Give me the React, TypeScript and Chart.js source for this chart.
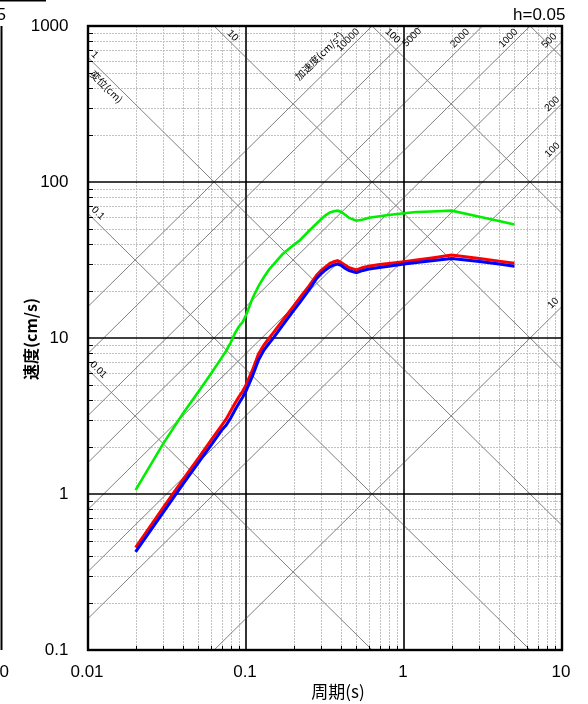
import React, { useEffect, useRef } from 'react';
import { Chart, registerables } from 'chart.js';

Chart.register(...registerables);

// ---------- data ----------
const periods = [0.02, 0.03, 0.04, 0.05, 0.06, 0.07, 0.075, 0.08, 0.085, 0.09, 0.095, 0.1, 0.11, 0.12, 0.13, 0.14, 0.15, 0.17, 0.2, 0.22, 0.25, 0.28, 0.3, 0.32, 0.34, 0.36, 0.38, 0.4, 0.42, 0.45, 0.5, 0.55, 0.6, 0.7, 0.8, 1.0, 1.2, 1.5, 2.0, 3.0, 4.0, 5.0];
const svGreen = [1.06, 2.11, 3.29, 4.52, 5.9, 7.46, 8.29, 9.35, 10.7, 11.8, 12.6, 14.0, 18.0, 21.5, 24.6, 27.5, 29.8, 34.4, 39.4, 42.5, 48.5, 54.2, 57.9, 61.4, 63.8, 64.9, 65.5, 64.2, 62.1, 58.8, 56.5, 57.5, 59.0, 60.3, 61.4, 63.0, 64.2, 64.7, 65.5, 59.9, 56.2, 53.4];
const svRed = [0.454, 0.822, 1.24, 1.7, 2.21, 2.74, 3.03, 3.4, 3.8, 4.19, 4.54, 5.0, 6.24, 7.9, 9.04, 9.97, 10.9, 12.9, 16.0, 18.2, 21.5, 25.3, 27.2, 28.7, 30.1, 30.8, 31.3, 30.5, 29.5, 28.2, 27.3, 28.3, 28.9, 29.6, 30.0, 30.8, 31.6, 32.6, 34.0, 32.3, 31.1, 30.1];
const svBlue = [0.425, 0.766, 1.16, 1.59, 2.05, 2.56, 2.77, 3.07, 3.44, 3.8, 4.16, 4.57, 5.71, 7.23, 8.38, 9.25, 10.1, 12.0, 15.0, 17.0, 20.3, 24.1, 25.9, 27.4, 28.6, 29.4, 29.8, 29.2, 28.1, 27.0, 26.2, 27.1, 27.7, 28.3, 28.8, 29.8, 30.5, 31.3, 32.3, 30.9, 29.8, 28.8];

const xTickValues = [0.01, 0.1, 1, 10];
const xTickLabels = ['0.01', '0.1', '1', '10'];
const yTickValues = [0.1, 1, 10, 100, 1000];
const yTickLabels = ['0.1', '1', '10', '100', '1000'];

const dispLines = [0.01, 0.1, 1, 10, 100, 1000];
const accLines = [10, 100, 200, 500, 1000, 2000, 5000, 10000];
const dispLabelValues = [1, 0.1, 0.01, 10, 100];
const dispLabelTexts = ['1', '0.1', '0.01', '10', '100'];
const accLabelValues = [10000, 5000, 2000, 1000, 500, 200, 100, 10];
const accLabelTexts = ['10000', '5000', '2000', '1000', '500', '200', '100', '10'];
const dispTitle = '変位(cm)';
const accTitle = '加速度(cm/s²)';
const xTitle = '周期(s)';
const yTitle = '速度(cm/s)';
const dampingText = 'h=0.05';

// ---------- styles / offsets (pixels) ----------
const DISP_LABEL_OFFSETS: Record<string, [number, number]> = {
  '1': [6.7, -2.5], '0.1': [10, -0.2], '0.01': [10.3, 0.5], '10': [18.6, 9.8], '100': [20.5, 9.8],
};
const ACC_LABEL_OFFSETS: Record<string, [number, number]> = {
  '10000': [-24, 14], '5000': [-7.5, 11.5], '2000': [-22.5, 12.3], '1000': [-21.7, 12.3],
  '500': [-12.7, -0.7], '200': [-9.8, 0.5], '100': [-9.5, -0.6], '10': [-8.7, -3.3],
};
const DISP_TITLE_OFFSET: [number, number] = [18.5, 29.2];
const ACC_TITLE_OFFSET: [number, number] = [-52.8, 29.8];

const LATIN = '"Liberation Sans", Arial, "Noto Sans CJK JP", sans-serif';
const CJK = '"Noto Sans CJK JP", "Liberation Sans", sans-serif';
const TWO_PI = 2 * Math.PI;

const tripartitePlugin = {
  id: 'tripartite',
  beforeDatasetsDraw(chart: any) {
    const { ctx, chartArea: ca, scales } = chart;
    const xs = scales.x, ys = scales.y;
    const Tmin = xs.min, Tmax = xs.max, Smin = ys.min, Smax = ys.max;
    const px = (v: number) => xs.getPixelForValue(v);
    const py = (v: number) => ys.getPixelForValue(v);
    ctx.save();
    ctx.beginPath();
    ctx.rect(ca.left, ca.top, ca.right - ca.left, ca.bottom - ca.top);
    ctx.clip();
    // minor grid
    ctx.strokeStyle = '#c2c2c2';
    ctx.lineWidth = 1;
    ctx.setLineDash([2, 1]);
    for (let e = -2; e < 1; e++) {
      for (let k = 2; k <= 9; k++) {
        const x = Math.round(px(k * Math.pow(10, e))) + 0.5;
        ctx.beginPath(); ctx.moveTo(x, ca.top); ctx.lineTo(x, ca.bottom); ctx.stroke();
      }
    }
    for (let e = -1; e < 3; e++) {
      for (let k = 2; k <= 9; k++) {
        const y = Math.round(py(k * Math.pow(10, e))) + 0.5;
        ctx.beginPath(); ctx.moveTo(ca.left, y); ctx.lineTo(ca.right, y); ctx.stroke();
      }
    }
    ctx.setLineDash([]);
    // diagonal lines
    ctx.strokeStyle = '#808080';
    ctx.lineWidth = 1;
    for (const D of dispLines) {
      const t0 = Math.max(Tmin, TWO_PI * D / Smax);
      const t1 = Math.min(Tmax, TWO_PI * D / Smin);
      if (t1 <= t0) continue;
      ctx.beginPath();
      ctx.moveTo(px(t0), py(TWO_PI * D / t0));
      ctx.lineTo(px(t1), py(TWO_PI * D / t1));
      ctx.stroke();
    }
    for (const A of accLines) {
      const t0 = Math.max(Tmin, TWO_PI * Smin / A);
      const t1 = Math.min(Tmax, TWO_PI * Smax / A);
      if (t1 <= t0) continue;
      ctx.beginPath();
      ctx.moveTo(px(t0), py(A * t0 / TWO_PI));
      ctx.lineTo(px(t1), py(A * t1 / TWO_PI));
      ctx.stroke();
    }
    // major grid
    ctx.strokeStyle = '#333';
    ctx.lineWidth = 2;
    for (const v of [0.1, 1]) {
      const x = Math.round(px(v));
      ctx.beginPath(); ctx.moveTo(x, ca.top); ctx.lineTo(x, ca.bottom); ctx.stroke();
    }
    ctx.strokeStyle = '#000';
    ctx.lineWidth = 1.6;
    for (const v of [1, 10, 100]) {
      const y = Math.round(py(v));
      ctx.beginPath(); ctx.moveTo(ca.left, y); ctx.lineTo(ca.right, y); ctx.stroke();
    }
    ctx.restore();

    // diagonal labels
    const ang = Math.atan2(Math.abs(py(1) - py(10)), Math.abs(px(10) - px(1)));
    ctx.save();
    ctx.fillStyle = '#000';
    ctx.textAlign = 'center';
    ctx.textBaseline = 'middle';
    const drawRot = (text: string, cx: number, cy: number, a: number, font: string) => {
      ctx.save();
      ctx.translate(cx, cy);
      ctx.rotate(a);
      ctx.font = font;
      ctx.fillText(text, 0, 0);
      ctx.restore();
    };
    const f10 = `10px ${LATIN}`;
    dispLabelValues.forEach((D, i) => {
      const t0 = Math.max(Tmin, TWO_PI * D / Smax);
      const ax = px(t0), ay = py(TWO_PI * D / t0);
      const off = DISP_LABEL_OFFSETS[dispLabelTexts[i]];
      drawRot(dispLabelTexts[i], ax + off[0], ay + off[1], ang, f10);
      if (D === 1) drawRot(dispTitle, ax + DISP_TITLE_OFFSET[0], ay + DISP_TITLE_OFFSET[1], ang, `10px ${CJK}`);
    });
    accLabelValues.forEach((A, i) => {
      const t1 = Math.min(Tmax, TWO_PI * Smax / A);
      const ax = px(t1), ay = py(A * t1 / TWO_PI);
      const off = ACC_LABEL_OFFSETS[accLabelTexts[i]];
      drawRot(accLabelTexts[i], ax + off[0], ay + off[1], -ang, f10);
      if (A === 10000) drawRot(accTitle, ax + ACC_TITLE_OFFSET[0], ay + ACC_TITLE_OFFSET[1], -ang, `10px ${CJK}`);
    });
    ctx.restore();
  },
  afterDatasetsDraw(chart: any) {
    const { ctx, chartArea: ca, scales } = chart;
    const xs = scales.x, ys = scales.y;
    const px = (v: number) => xs.getPixelForValue(v);
    const py = (v: number) => ys.getPixelForValue(v);
    ctx.save();
    // ticks
    ctx.strokeStyle = '#000';
    ctx.lineWidth = 1;
    for (let e = -2; e < 1; e++) {
      for (let k = 2; k <= 9; k++) {
        const x = Math.round(px(k * Math.pow(10, e))) + 0.5;
        ctx.beginPath(); ctx.moveTo(x, ca.bottom); ctx.lineTo(x, ca.bottom - 4); ctx.stroke();
      }
    }
    for (let e = -1; e < 3; e++) {
      for (let k = 2; k <= 9; k++) {
        const y = Math.round(py(k * Math.pow(10, e))) + 0.5;
        ctx.beginPath(); ctx.moveTo(ca.left, y); ctx.lineTo(ca.left + 5, y); ctx.stroke();
      }
    }
    // frame
    ctx.lineWidth = 2.4;
    ctx.strokeRect(ca.left, ca.top, ca.right - ca.left, ca.bottom - ca.top);
    // tick labels
    ctx.fillStyle = '#000';
    ctx.font = `17px ${LATIN}`;
    ctx.textAlign = 'right';
    ctx.textBaseline = 'middle';
    yTickValues.forEach((v, i) => ctx.fillText(yTickLabels[i], ca.left - 19.5, py(v)));
    ctx.textAlign = 'center';
    xTickValues.forEach((v, i) => ctx.fillText(xTickLabels[i], px(v) - 1, ca.bottom + 22));
    // titles
    ctx.font = `17px ${CJK}`;
    ctx.fillText(xTitle, (ca.left + ca.right) / 2 + 13, ca.bottom + 42);
    ctx.save();
    ctx.translate(30.5, (ca.top + ca.bottom) / 2 + 1);
    ctx.rotate(-Math.PI / 2);
    ctx.font = `bold 16px ${CJK}`;
    ctx.fillText(yTitle, 0, 0);
    ctx.restore();
    ctx.font = `17px ${LATIN}`;
    ctx.textAlign = 'right';
    ctx.fillText(dampingText, ca.right + 3.5, ca.top - 11);
    // neighbouring chart edge (cut off on the left)
    ctx.fillText(dampingText, 6, ca.top - 11);
    ctx.textAlign = 'center';
    ctx.fillText(xTickLabels[3], -0.5, ca.bottom + 22);
    ctx.lineWidth = 2;
    ctx.beginPath(); ctx.moveTo(1.5, ca.top); ctx.lineTo(1.5, ca.bottom); ctx.stroke();
    ctx.lineWidth = 1.5;
    ctx.beginPath(); ctx.moveTo(0, 0.75); ctx.lineTo(46, 0.75); ctx.stroke();
    ctx.restore();
  },
};

export default function App() {
  const ref = useRef<HTMLCanvasElement | null>(null);
  useEffect(() => {
    if (!ref.current) return;
    const mk = (vals: number[]) => periods.map((t, i) => ({ x: t, y: vals[i] }));
    const chart = new Chart(ref.current, {
      type: 'scatter',
      data: {
        datasets: [
          { label: 'green', data: mk(svGreen), borderColor: '#00ee00', borderWidth: 2.6, showLine: true, pointRadius: 0, tension: 0 },
          { label: 'blue', data: mk(svBlue), borderColor: '#0000ff', borderWidth: 3, showLine: true, pointRadius: 0, tension: 0 },
          { label: 'red', data: mk(svRed), borderColor: '#ff0000', borderWidth: 3, showLine: true, pointRadius: 0, tension: 0 },
        ],
      },
      options: {
        responsive: false,
        animation: false,
        events: [],
        layout: { padding: { left: 88, right: 26, top: 26, bottom: 54 } },
        plugins: { legend: { display: false }, tooltip: { enabled: false }, title: { display: false } },
        scales: {
          x: { type: 'logarithmic', min: 0.01, max: 10, display: false },
          y: { type: 'logarithmic', min: 0.1, max: 1000, display: false },
        },
      },
      plugins: [tripartitePlugin],
    } as any);
    return () => chart.destroy();
  }, []);
  return (
    <div style={{ position: 'fixed', left: 0, top: 0, width: 588, height: 704, background: '#fff' }}>
      <canvas ref={ref} width={588} height={704} style={{ width: 588, height: 704, display: 'block' }} />
    </div>
  );
}
